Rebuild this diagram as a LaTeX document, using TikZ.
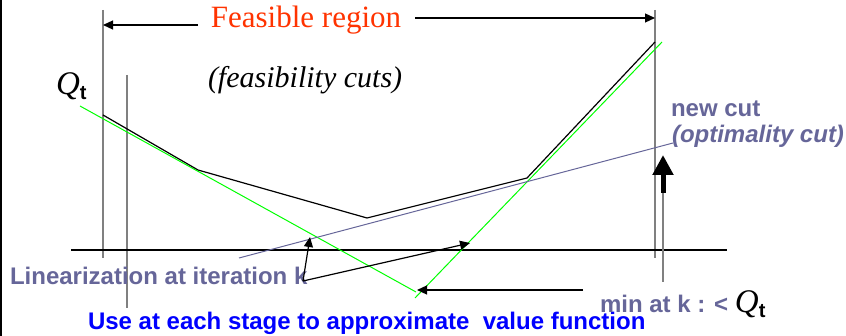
\documentclass[tikz,border=0pt]{standalone}
\usepackage{fontspec}
\setmainfont{Liberation Serif}
\setsansfont{Liberation Sans}
\usepackage{xcolor}
\usetikzlibrary{arrows.meta, positioning, calc}
\definecolor{cutgray}{RGB}{102,102,153}
\definecolor{feasred}{RGB}{255,51,0}
\definecolor{stageblue}{RGB}{0,0,255}
\definecolor{lingreen}{RGB}{0,255,0}
\newcommand{\Qt}{{\rmfamily\mdseries\itshape\fontsize{33}{33}\selectfont Q}\raisebox{-5pt}{\sffamily\bfseries\upshape\fontsize{20}{20}\selectfont t}}

\begin{document}
\begin{tikzpicture}[
      x=1pt, y=-1pt,
      every node/.style={inner sep=0pt, outer sep=0pt},
      bound/.style={draw=gray, line width=1.6pt},
      axis/.style={draw=black, line width=1.2pt},
      valuefn/.style={draw=black, line width=1.2pt},
      lincut/.style={draw=lingreen, line width=1pt},
      newcut/.style={draw=cutgray, line width=1pt},
      pointer/.style={draw=black, line width=1.2pt, -{Triangle[length=10pt,width=9pt]}},
      bluelabel/.style={text=cutgray, font=\sffamily\bfseries\fontsize{24}{28}\selectfont}
    ]
      \useasboundingbox (0,0) rectangle (846,336);
      \draw[line width=2pt] (1,0) -- (1,336);

      \coordinate (b1top) at (103,10);  \coordinate (b1bot) at (103,258);
      \coordinate (b2top) at (127,75);  \coordinate (b2bot) at (127,308);
      \coordinate (b3top) at (655,10);  \coordinate (b3bot) at (655,258);
      \draw[bound] (b1top) -- (b1bot);
      \draw[bound] (b2top) -- (b2bot);
      \draw[bound] (b3top) -- (b3bot);

      \coordinate (axl) at (71,250); \coordinate (axr) at (727,250);
      \draw[axis] (axl) -- (axr);

      \coordinate (q0) at (103,115); \coordinate (q1) at (198,170);
      \coordinate (q2) at (367,218); \coordinate (q3) at (527,178);
      \coordinate (q4) at (655,42);
      \draw[valuefn] (q0) -- (q1) -- (q2) -- (q3) -- (q4);

      \coordinate (ga) at (80,106);  \coordinate (gb) at (416,292);
      \coordinate (gc) at (415,298); \coordinate (gd) at (662,42);
      \draw[lincut] (ga) -- (gb);
      \draw[lincut] (gc) -- (gd);

      \coordinate (nc0) at (239,258); \coordinate (nc1) at (673,143);
      \draw[newcut] (nc0) -- (nc1);

      \node[anchor=base, text=feasred, font=\rmfamily\fontsize{31}{34}\selectfont] (feas) at (306,28) {Feasible region};
      \coordinate (fl) at (198,25); \coordinate (fr) at (415,18);
      \draw[pointer] (fl) -- (b1top |- fl);
      \draw[pointer] (fr) -- (b3top |- fr);

      \node[anchor=base west, font=\rmfamily\itshape\fontsize{30}{34}\selectfont] (fcuts) at (208,88) {(feasibility cuts)};
      \node[anchor=base west] (qlab) at (56,95) {\Qt};

      \node[anchor=base west, bluelabel] (newlab) at (671,117) {new cut};
      \node[anchor=base west, bluelabel, font=\sffamily\bfseries\itshape\fontsize{24}{28}\selectfont] (optlab) at (672,143) {(optimality cut)};

      \node[anchor=base west, bluelabel] (linlab) at (10,285) {Linearization at iteration k};
      \coordinate (kpt) at (303,281);
      \coordinate (lin1) at (310,237); \coordinate (lin2) at (470,243);
      \draw[pointer] (kpt) -- (lin1);
      \draw[pointer] (kpt) -- (lin2);

      \coordinate (mtail) at (583,290); \coordinate (kmin) at (417,290);
      \draw[pointer] (mtail) -- (kmin);

      \coordinate (upbot) at (663,282); \coordinate (upmid) at (663,193); \coordinate (uptip) at (663,155);
      \draw[bound] (upbot) -- (upmid);
      \draw[line width=5pt, -{Triangle[length=20pt,width=20pt]}] (upmid) -- (uptip);

      \node[anchor=base west, text=stageblue, font=\sffamily\bfseries\fontsize{24}{28}\selectfont] (stage) at (88,330) {Use at each stage to approximate \ value function};
      \node[anchor=base west, bluelabel] (minlab) at (600,313) {min at k : < \textcolor{black}{\Qt}};
    \end{tikzpicture}
\end{document}
